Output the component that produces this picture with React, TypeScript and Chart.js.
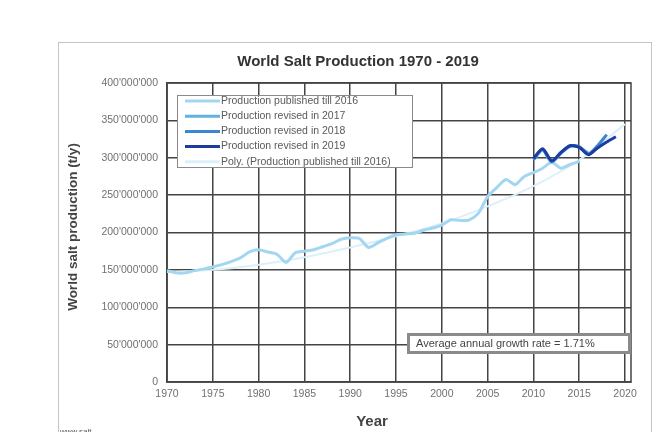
import React, { useEffect, useRef } from "react";
import { Chart, registerables } from "chart.js";
Chart.register(...registerables);

const FONT = "'Liberation Sans', Arial, sans-serif";

// Production published till 2016 (million t/y)
const publishedYears = [
  1970, 1971, 1972, 1973, 1974, 1975, 1976, 1977, 1978, 1979,
  1980, 1981, 1982, 1983, 1984, 1985, 1986, 1987, 1988, 1989,
  1990, 1991, 1992, 1993, 1994, 1995, 1996, 1997, 1998, 1999,
  2000, 2001, 2002, 2003, 2004, 2005, 2006, 2007, 2008, 2009,
  2010, 2011, 2012, 2013, 2014, 2015,
];
const publishedValues = [
  149, 146, 146, 149, 151, 154, 157, 161, 166, 174,
  177, 174, 171, 160, 173, 175, 177, 181, 185, 191,
  193, 192, 180, 186, 192, 197, 198, 199, 203, 206,
  210, 217, 216, 217, 226, 248, 260, 271, 264, 275,
  280, 286, 294, 286, 291, 295,
];

const rev2017Years = [2010, 2011, 2012, 2013, 2014, 2015, 2016];
const rev2017Values = [297, 310, 294, 306, 315, 314, 306];

const rev2018Years = [2010, 2011, 2012, 2013, 2014, 2015, 2016, 2017, 2018];
const rev2018Values = [298, 311, 295, 307, 316, 315, 305, 316, 331];

const rev2019Years = [2010, 2011, 2012, 2013, 2014, 2015, 2016, 2017, 2018, 2019];
const rev2019Values = [299, 312, 296, 307, 316, 314, 304, 313, 321, 328];

const polyYears = [1970, 1975, 1980, 1985, 1990, 1995, 2000, 2005, 2010, 2015, 2020];
const polyValues = [147, 150, 157, 167, 180, 195, 212, 235, 262, 297, 345];

const seriesLabels = [
  "Production published till 2016",
  "Production revised in 2017",
  "Production revised in 2018",
  "Production revised in 2019",
  "Poly. (Production published till 2016)",
];
const seriesColors = ["#a3d6f0", "#62b2e2", "#3a86cf", "#1d3c9e", "#dcf0fa"];

const titleText = "World Salt Production 1970 - 2019";
const yTitleText = "World salt production (t/y)";
const xTitleText = "Year";
const growthText = "Average annual growth rate = 1.71%";
const sourceText = "www.salt";

const pts = (xs: number[], ys: number[]) => xs.map((x, i) => ({ x, y: ys[i] }));

const fmt = (v: number) =>
  v === 0 ? "0" : String(Math.round(v * 1000000)).replace(/\B(?=(\d{3})+(?!\d))/g, "'");

const GRID = "#444";

const decor = {
  id: "decor",
  beforeDraw(chart: any) {
    const ctx = chart.ctx;
    ctx.save();
    ctx.fillStyle = "#ffffff";
    ctx.fillRect(0, 0, chart.width, chart.height);
    ctx.strokeStyle = "#c4c4c4";
    ctx.lineWidth = 1;
    ctx.strokeRect(58.5, 42.5, 593, 420);
    ctx.fillStyle = "#333";
    ctx.font = `bold 15px ${FONT}`;
    ctx.textAlign = "center";
    ctx.textBaseline = "middle";
    ctx.fillText(titleText, 358, 62);
    ctx.font = `bold 15px ${FONT}`;
    ctx.fillStyle = "#444";
    ctx.fillText(xTitleText, 372, 422);
    ctx.save();
    ctx.translate(73, 227);
    ctx.rotate(-Math.PI / 2);
    ctx.font = `bold 13.5px ${FONT}`;
    ctx.fillText(yTitleText, 0, 0);
    ctx.restore();
    ctx.font = `8px ${FONT}`;
    ctx.textAlign = "left";
    ctx.textBaseline = "alphabetic";
    ctx.fillStyle = "#555";
    ctx.fillText(sourceText, 60, 434);
    ctx.restore();
  },
  beforeDatasetsDraw(chart: any) {
    const { ctx, chartArea: a } = chart;
    ctx.save();
    ctx.strokeStyle = GRID;
    ctx.lineWidth = 1.5;
    ctx.strokeRect(a.left, a.top, a.right - a.left, a.bottom - a.top);
    ctx.restore();
  },
  afterDatasetsDraw(chart: any) {
    const ctx = chart.ctx;
    ctx.save();
    ctx.fillStyle = "#fff";
    ctx.fillRect(177, 95, 236, 73);
    ctx.strokeStyle = "#8a8a8a";
    ctx.lineWidth = 1;
    ctx.strokeRect(177.5, 95.5, 235, 72);
    ctx.font = `10.5px ${FONT}`;
    ctx.textAlign = "left";
    ctx.textBaseline = "middle";
    seriesLabels.forEach((lab, i) => {
      const y = 101 + i * 15.2;
      ctx.strokeStyle = seriesColors[i];
      ctx.lineWidth = 3;
      ctx.beginPath();
      ctx.moveTo(185, y);
      ctx.lineTo(220, y);
      ctx.stroke();
      ctx.fillStyle = "#5a5a5a";
      ctx.fillText(lab, 221, y);
    });
    ctx.fillStyle = "#fff";
    ctx.fillRect(408, 334, 222, 19);
    ctx.strokeStyle = "#8a8a8a";
    ctx.strokeRect(408.5, 334.5, 221, 18);
    ctx.fillStyle = "#444";
    ctx.font = `11px ${FONT}`;
    ctx.fillText(growthText, 416, 344);
    ctx.restore();
  },
};

export default function App() {
  const ref = useRef<HTMLCanvasElement>(null);
  useEffect(() => {
    const canvas = ref.current!;
    const mk = (label: string, data: any, color: string, width: number, order: number, tension = 0.25) => ({
      label,
      data,
      borderColor: color,
      backgroundColor: color,
      borderWidth: width,
      pointRadius: 0,
      tension,
      fill: false,
      order,
    });
    const chart = new Chart(canvas, {
      type: "line",
      data: {
        datasets: [
          mk(seriesLabels[0], pts(publishedYears, publishedValues), seriesColors[0], 3, 3),
          mk(seriesLabels[1], pts(rev2017Years, rev2017Values), seriesColors[1], 3, 2),
          mk(seriesLabels[2], pts(rev2018Years, rev2018Values), seriesColors[2], 3, 1),
          mk(seriesLabels[3], pts(rev2019Years, rev2019Values), seriesColors[3], 3, 0),
          mk(seriesLabels[4], pts(polyYears, polyValues), seriesColors[4], 2, 4, 0.4),
        ] as any,
      },
      options: {
        animation: false,
        responsive: false,
        devicePixelRatio: 1,
        layout: { padding: { left: 0, top: 83, right: 29, bottom: 0 } },
        plugins: { legend: { display: false }, title: { display: false }, tooltip: { enabled: false } },
        scales: {
          x: {
            type: "linear",
            min: 1970,
            max: 2020.65,
            afterFit: (s: any) => { s.height = 50; },
            ticks: {
              stepSize: 5,
              includeBounds: false,
              padding: 6,
              color: "#707070",
              font: { family: FONT, size: 10.5 },
              callback: (v: any) => String(v),
            },
            grid: { color: GRID, lineWidth: 1.5, drawTicks: false },
            border: { display: true, color: GRID, width: 1.5 },
          },
          y: {
            type: "linear",
            min: 0,
            max: 400,
            afterFit: (s: any) => { s.width = 167; },
            ticks: {
              stepSize: 50,
              padding: 9,
              color: "#707070",
              font: { family: FONT, size: 10.5 },
              callback: (v: any) => fmt(Number(v)),
            },
            grid: { color: GRID, lineWidth: 1.5, drawTicks: false },
            border: { display: true, color: GRID, width: 1.5 },
          },
        },
      },
      plugins: [decor],
    } as any);
    return () => chart.destroy();
  }, []);
  return (
    <div style={{ position: "fixed", left: 0, top: 0, width: 660, height: 432, background: "#fff" }}>
      <canvas ref={ref} width={660} height={432} style={{ width: 660, height: 432, display: "block" }} />
    </div>
  );
}
